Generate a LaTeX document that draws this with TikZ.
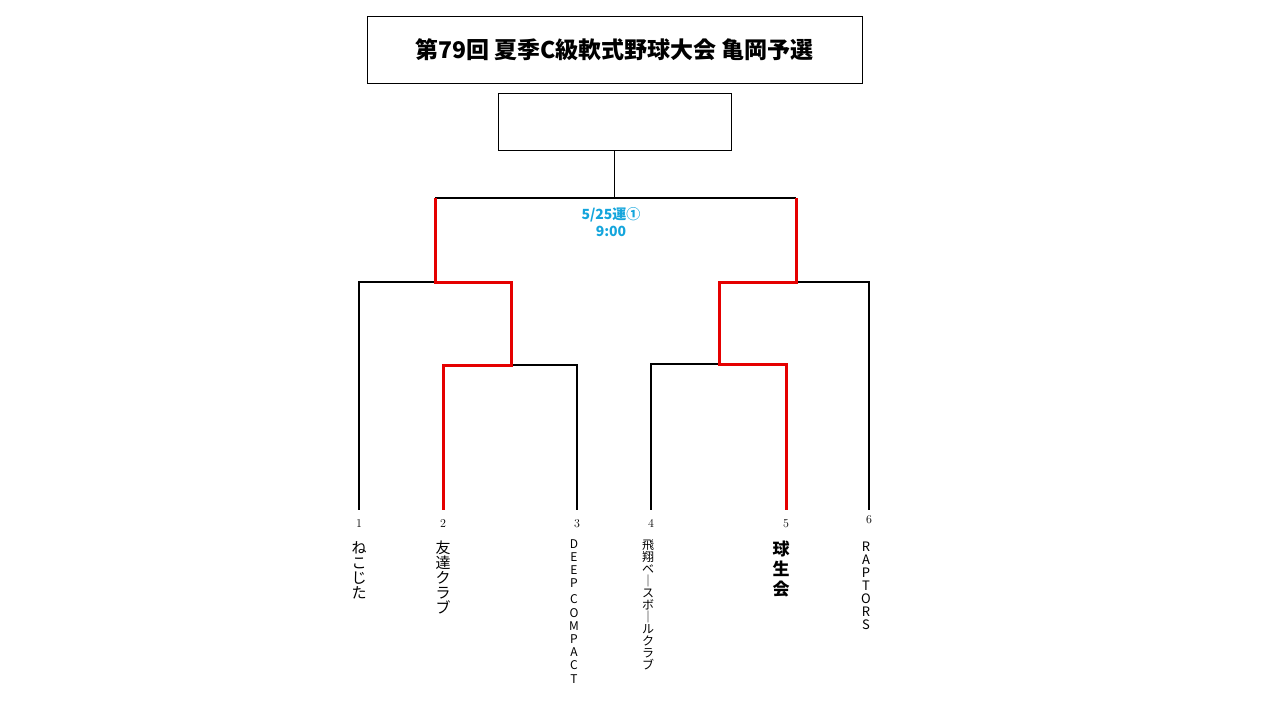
\documentclass[tikz,border=0pt]{standalone}
\usepackage{fontspec}
\newfontfamily\jp{Noto Sans CJK JP}
\usetikzlibrary{positioning}
\definecolor{gamecol}{RGB}{20,165,220}
\newcommand\vbar{｜}

\begin{document}
\begin{tikzpicture}[x=1pt,y=-1pt,
      win/.style ={red!90!black,line width=3pt},
      lose/.style={black,line width=1.5pt},
      num/.style ={font=\fontsize{12}{12}\selectfont,anchor=base},
      team/.style={anchor=north,align=center,inner sep=0pt,font=\jp\fontsize{#1}{#1}\selectfont},
      team/.default=13]
    \useasboundingbox (0,0) rectangle (1280,720);
    \node[draw,line width=0.8pt,minimum width=495pt,minimum height=67pt] (title) at (614.5,49.5)
        {\jp\bfseries\fontsize{23}{23}\selectfont 第79回 夏季C級軟式野球大会 亀岡予選};
    \node[draw,line width=0.8pt,minimum width=233pt,minimum height=57pt] (champ) at (614.5,121.5) {};
    % leaves
    \foreach \n/\x in {1/359,2/443,3/577,4/651,5/786,6/869}
      \coordinate (t\n) at (\x,510);
    \coordinate (top) at (614.5,198);
    \coordinate (sfL) at (435,282);
    \coordinate (sfR) at (796,282);
    \coordinate (qfL) at (511,365);
    \coordinate (qfR) at (719,364);
    \draw[lose] (champ.south) -- (top);
    \draw[lose] (top) -- (sfL|-top) (top) -- (sfR|-top);
    \draw[lose] (sfL) -| (t1);
    \draw[lose] (sfR) -| (t6);
    \draw[lose] (qfL) -| (t3);
    \draw[lose] (qfR) -| (t4);
    \draw[win,line join=miter] (sfL|-top) -- (sfL) -- (qfL|-sfL) -- (qfL) -| (t2);
    \draw[win,line join=miter] (sfR|-top) -- (sfR) -- (qfR|-sfR) -- (qfR) -| (t5);
    \node[align=center,text=gamecol,font=\jp\bfseries\fontsize{14}{17}\selectfont] (game) at (611,222)
        {5/25運①\\9:00};
    % numbers and names
    \foreach \n/\x in {1/359,2/443,3/577,4/651,5/786} \node[num] (n\n) at (\x,527) {\n};
    \node[num] (n6) at (869,523) {6};
    \node[team=15] (a1) at (359,541) {ね\\こ\\じ\\た};
    \node[team=15] (a2) at (443,541) {友\\達\\ク\\ラ\\ブ};
    \node[team={12}, font=\jp\fontsize{12}{13.2}\selectfont] (a3) at (574,539) {D\\E\\E\\P\\[3pt]C\\O\\M\\P\\A\\C\\T};
    \node[team=12] (a4) at (648,540) {飛\\翔\\ベ\\\vbar\\ス\\ボ\\\vbar\\ル\\ク\\ラ\\ブ};
    \node[team=17] (a5) at (781,541) {\bfseries 球\\[3pt]\bfseries 生\\[3pt]\bfseries 会};
    \node[team=13] (a6) at (866,542) {R\\A\\P\\T\\O\\R\\S};
\end{tikzpicture}
\end{document}
